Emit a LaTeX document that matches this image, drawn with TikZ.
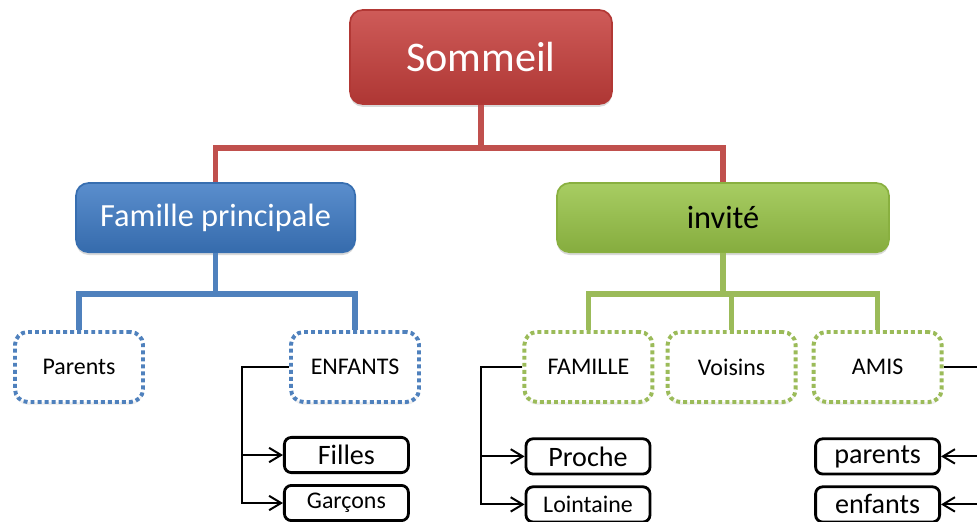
\documentclass[tikz,border=0pt]{standalone}
\usepackage{fontspec}
\setmainfont{Carlito}
\usetikzlibrary{arrows.meta, positioning, shadows}
\definecolor{cred}{HTML}{C0504D}
\definecolor{cblue}{HTML}{4F81BD}
\definecolor{cgreen}{HTML}{9BBB59}
\definecolor{bred}{HTML}{C63E3B}
\definecolor{bblue}{HTML}{3D7AC4}
\definecolor{bgreen}{HTML}{98C447}
\tikzset{
  every picture/.style={line width=1.2pt},
  head/.style={draw=#1!90!black, top color=#1!85!white, bottom color=#1!88!black, rounded corners=9pt, align=center, minimum height=1.73cm, drop shadow={opacity=0.3, shadow xshift=0pt, shadow yshift=-2pt}},
  dots/.style={draw=#1, fill=white, line width=2.8pt, dash pattern=on 2.8pt off 2.2pt, rounded corners=9pt, minimum width=3.2cm, minimum height=1.75cm, font=\fontsize{17}{20}\selectfont, drop shadow={opacity=0.12, shadow xshift=0pt, shadow yshift=-2pt}},
  leaf/.style={draw=black, fill=white, line width=2pt, rounded corners=5pt, minimum width=3.1cm, minimum height=0.88cm, inner sep=0pt},
  bus/.style={draw=#1, line width=4pt},
  feed/.style={-{Straight Barb[length=3mm, width=3.6mm]}, draw=black, line width=1.4pt},
}

\begin{document}
\begin{tikzpicture}[node distance=0.25cm,
  big/.style={leaf, font=\fontsize{20}{23}\selectfont},
  small/.style={leaf, font=\fontsize{17}{20}\selectfont}]
  \useasboundingbox (0,0) rectangle (24.425,-13.05);
  \node[head=bred, minimum width=6.55cm, minimum height=2.35cm, text=white, font=\fontsize{30}{34}\selectfont] (som) at (12.025,-1.425) {Sommeil};
  \node[head=bblue, minimum width=6.98cm, text=white, font=\fontsize{23}{27}\selectfont] (fam) at (5.39,-5.44) {Famille principale};
  \node[head=bgreen, minimum width=8.3cm, text=black, font=\fontsize{23}{27}\selectfont] (inv) at (18.075,-5.44) {invité};
  \node[dots=cblue] (par) at (1.975,-9.175) {Parents};
  \node[dots=cblue] (enf) at (8.875,-9.175) {ENFANTS};
  \node[dots=cgreen] (famille) at (14.71,-9.175) {FAMILLE};
  \node[dots=cgreen] (voi) at (18.29,-9.175) {Voisins};
  \node[dots=cgreen] (ami) at (21.94,-9.175) {AMIS};
  \foreach \n in {fam,inv} \draw[bus=cred] (som.south) -- ++(0,-1.075) -| (\n.north);
  \foreach \n in {par,enf} \draw[bus=cblue] (fam.south) -- ++(0,-1.02) -| (\n.north);
  \foreach \n in {famille,voi,ami} \draw[bus=cgreen] (inv.south) -- ++(0,-1.02) -| (\n.north);
  \node[big] (fil) at (8.66,-11.375) {Filles};
  \node[small, below=of fil] (gar) {Garçons};
  \node[big] (pro) at (14.7,-11.41) {Proche};
  \node[small, below=of pro] (loi) {Lointaine};
  \node[big] (pare) at (21.94,-11.41) {parents};
  \node[big, below=of pare] (enfa) {enfants};
  \foreach \n in {fil,gar} \draw[feed] (enf.west) -- ++(-1.175,0) |- (\n.west);
  \foreach \n in {pro,loi} \draw[feed] (famille.west) -- ++(-1.035,0) |- (\n.west);
  \foreach \n in {pare,enfa} \draw[feed] (ami.east) -- ++(1.135,0) |- (\n.east);
\end{tikzpicture}
\end{document}
